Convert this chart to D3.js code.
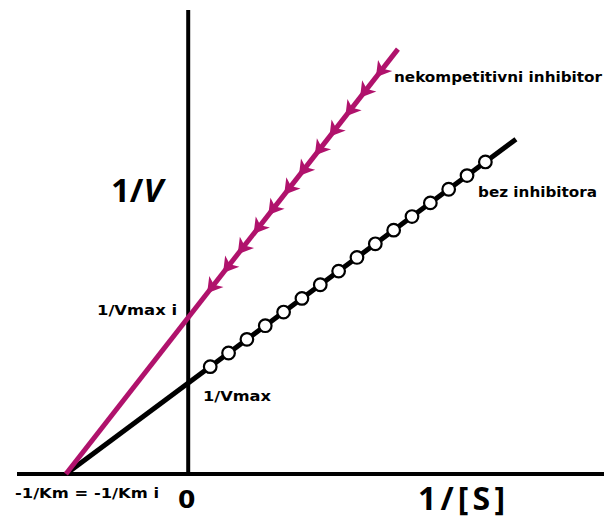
<!DOCTYPE html>
<html>
<head>
<meta charset="utf-8">
<script src="https://cdn.jsdelivr.net/npm/d3@7/dist/d3.min.js"></script>
<style>
  html, body { margin: 0; padding: 0; background: #fff; }
  svg { display: block; }
</style>
</head>
<body>
<script>
// Lineweaver–Burk plot: uninhibited vs. non-competitive inhibition
const W = 604, H = 519;

// Kinetic parameters (reciprocal units)
const invKm = 1.0;          // -1/Km = -1/Km i (shared x-intercept)
const invVmax = 1.0;        // y-intercept, no inhibitor
const invVmaxI = 1.72;      // y-intercept, non-competitive inhibitor

// Line extents along 1/[S]
const lineNoInhib = [-1.0, 2.68];
const lineInhib = [-1.0, 1.715];

// Measured points (1/[S]) shown as open circles on the uninhibited line
const pointsNoInhib = [0.18, 0.33, 0.48, 0.63, 0.78, 0.93, 1.08, 1.23,
                       1.38, 1.53, 1.68, 1.83, 1.98, 2.13, 2.28, 2.43];
// Positions (1/[S]) of arrow markers on the inhibited line
const arrowsInhib = [0.19, 0.32, 0.44, 0.57, 0.69, 0.82, 0.94, 1.07,
                     1.19, 1.32, 1.44, 1.57];

// Axis labels
const labelX = "1/[S]";
const labelZero = "0";
const labelKm = "-1/Km = -1/Km i";
const labelVmax = "1/Vmax";
const labelVmaxI = "1/Vmax i";
const labelNoInhib = "bez inhibitora";
const labelInhib = "nekompetitivni inhibitor";

const magenta = "#b0126c";

const x = d3.scaleLinear().domain([-1.4, 3.4]).range([17, 604]);
const y = d3.scaleLinear().domain([0, 5.1]).range([474, 10]);

const svg = d3.select("body").append("svg")
  .attr("width", W).attr("height", H);

// Axes
svg.append("line")
  .attr("x1", x(-1.4)).attr("x2", x(3.4))
  .attr("y1", y(0)).attr("y2", y(0))
  .attr("stroke", "#000").attr("stroke-width", 4);
svg.append("line")
  .attr("x1", x(0)).attr("x2", x(0))
  .attr("y1", y(5.1)).attr("y2", y(0) + 2)
  .attr("stroke", "#000").attr("stroke-width", 4);

const line = d3.line().x(d => x(d[0])).y(d => y(d[1]));
const fNo = v => invVmax * (1 + v / invKm);
const fIn = v => invVmaxI * (1 + v / invKm);

// Uninhibited line
svg.append("path")
  .datum(lineNoInhib.map(v => [v, fNo(v)]))
  .attr("d", line)
  .attr("fill", "none").attr("stroke", "#000").attr("stroke-width", 5);

// Inhibited line
svg.append("path")
  .datum(lineInhib.map(v => [v, fIn(v)]))
  .attr("d", line)
  .attr("fill", "none").attr("stroke", magenta).attr("stroke-width", 5);

// Open circles
svg.append("g").selectAll("circle")
  .data(pointsNoInhib)
  .join("circle")
  .attr("cx", d => x(d)).attr("cy", d => y(fNo(d)))
  .attr("r", 6.3)
  .attr("fill", "#fff").attr("stroke", "#000").attr("stroke-width", 2.2);

// Arrow markers pointing down the inhibited line
const dx = x(-1) - x(0), dy = y(fIn(-1)) - y(fIn(0));
const ang = Math.atan2(dy, dx) * 180 / Math.PI;
svg.append("g").selectAll("path")
  .data(arrowsInhib)
  .join("path")
  .attr("d", "M7,0 L-8,-9 L-4,0 L-8,9 Z")
  .attr("transform", d => `translate(${x(d)},${y(fIn(d))}) rotate(${ang})`)
  .attr("fill", magenta);

// Text labels
const small = (txt, px, py, len) => svg.append("text")
  .attr("x", px).attr("y", py)
  .attr("font-family", "DejaVu Sans, Verdana, sans-serif")
  .attr("font-weight", "bold").attr("font-size", 14)
  .attr("textLength", len).attr("lengthAdjust", "spacingAndGlyphs")
  .attr("fill", "#000").text(txt);

small(labelInhib, 394, 82, 208);
small(labelNoInhib, 478, 197, 119);
small(labelVmaxI, 97, 315, 80);
small(labelVmax, 203, 401, 68);
small(labelKm, 15, 498, 144);

svg.append("text")
  .attr("x", 178).attr("y", 508)
  .attr("font-family", "DejaVu Sans, sans-serif")
  .attr("font-weight", "bold").attr("font-size", 25)
  .attr("fill", "#000").text(labelZero);

svg.append("text")
  .attr("x", 418).attr("y", 510)
  .attr("font-family", "Open Sans, sans-serif")
  .attr("font-weight", "bold").attr("font-size", 32)
  .attr("textLength", 87).attr("lengthAdjust", "spacing")
  .attr("fill", "#000").text(labelX);

const yl = svg.append("text")
  .attr("x", 111).attr("y", 202)
  .attr("font-family", "Open Sans, sans-serif")
  .attr("font-weight", "bold").attr("font-size", 33)
  .attr("fill", "#000");
yl.append("tspan").text("1/");
yl.append("tspan").attr("font-style", "italic").text("V");
</script>
</body>
</html>
